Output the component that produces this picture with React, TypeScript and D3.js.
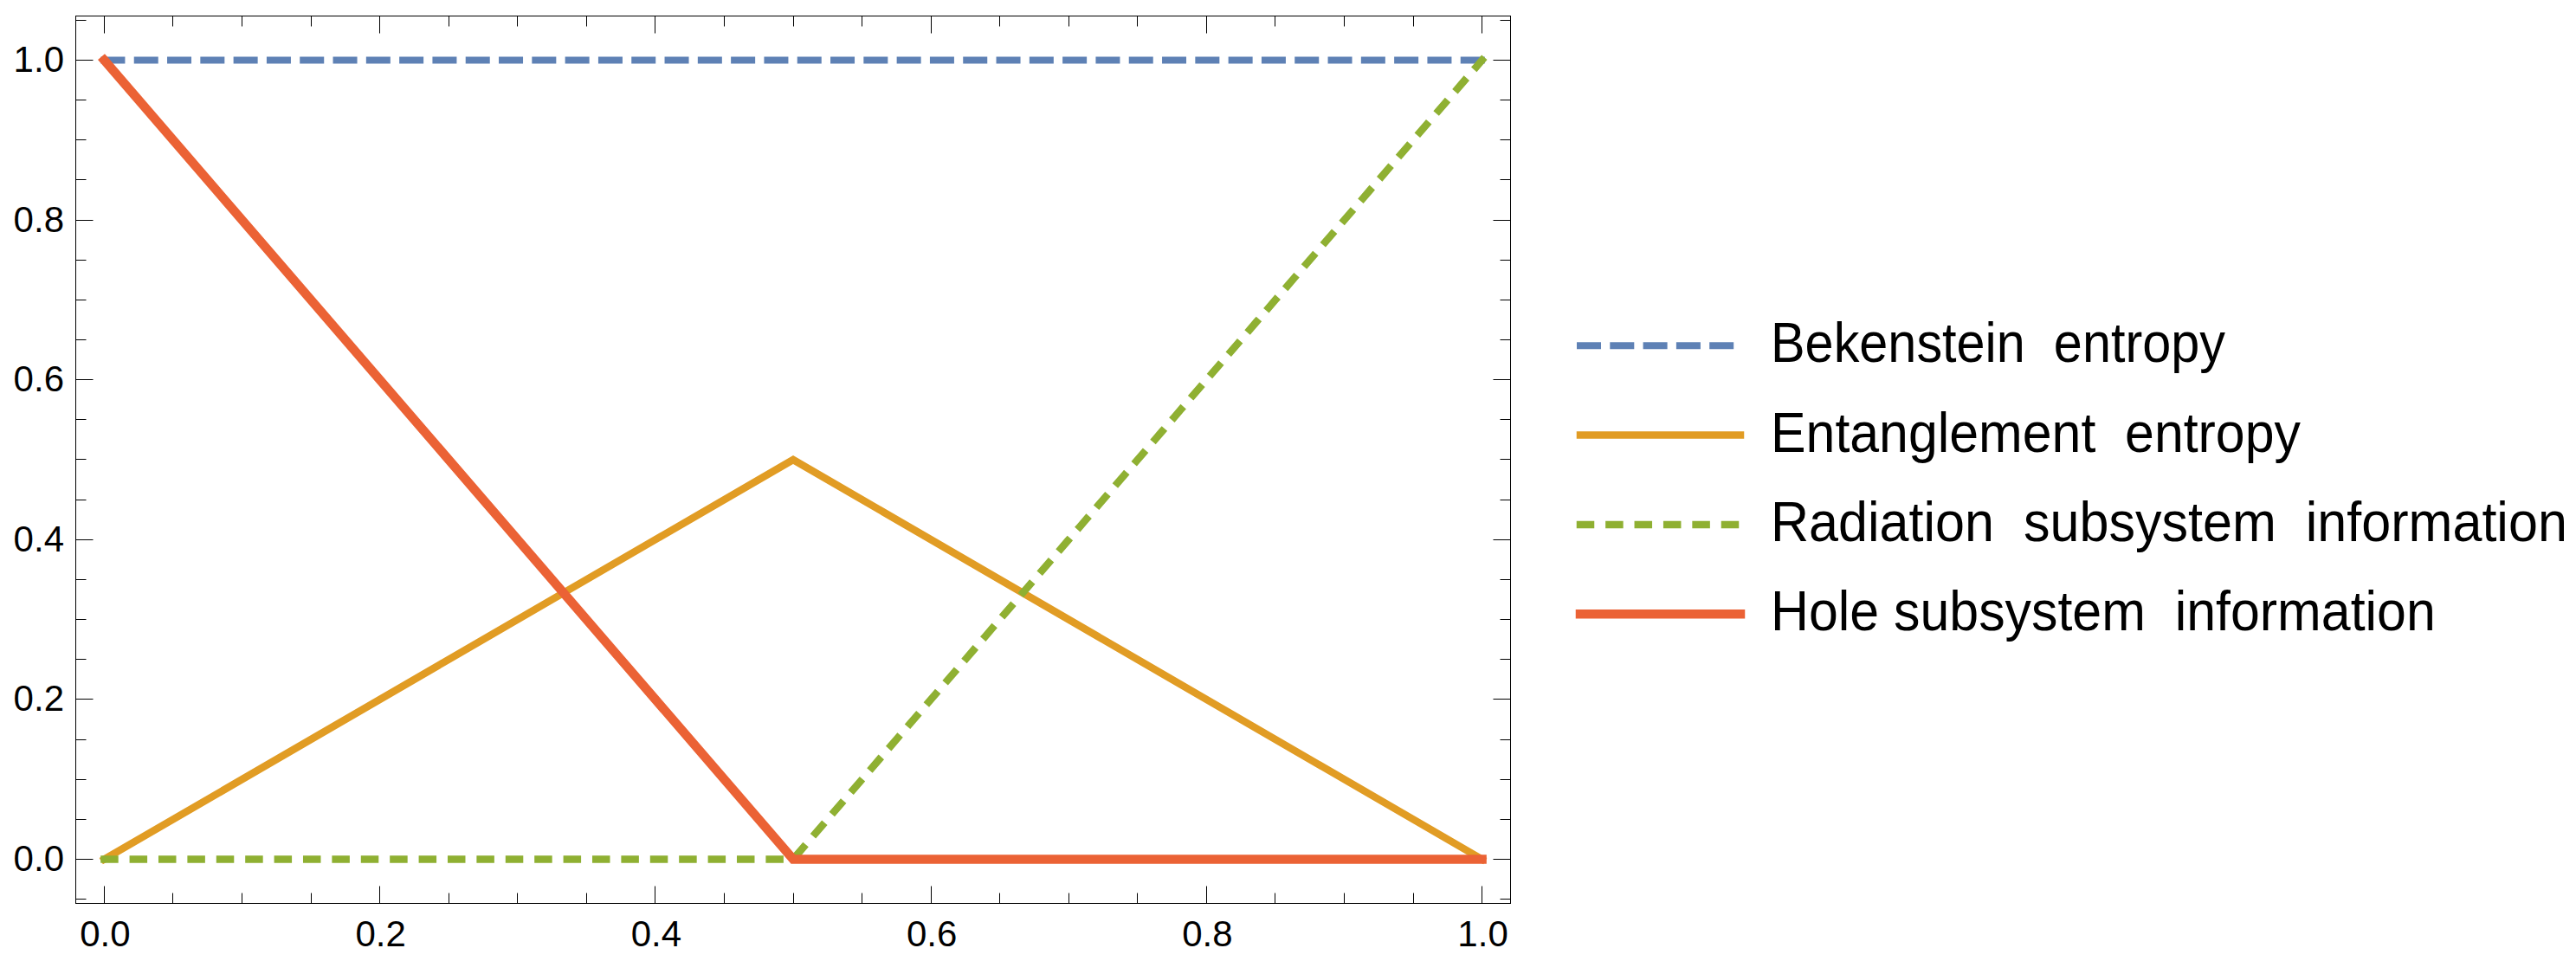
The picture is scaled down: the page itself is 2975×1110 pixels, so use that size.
import React, { useEffect, useRef } from 'react';
import * as d3 from 'd3';

// data
const xValues = [0, 0.5, 1];
const bekensteinEntropy = [1, 1, 1];
const entanglementEntropy = [0, 0.5, 0];
const radiationInformation = [0, 0, 1];
const holeInformation = [1, 0, 0];

const seriesLabels = [
  'Bekenstein  entropy',
  'Entanglement  entropy',
  'Radiation  subsystem  information',
  'Hole subsystem  information',
];

const xTickLabels = [0, 0.2, 0.4, 0.6, 0.8, 1.0];
const yTickLabels = [0, 0.2, 0.4, 0.6, 0.8, 1.0];

// Mathematica default palette
const seriesStyles = [
  { color: '#5E81B5', width: 8, dash: '20 18.3' },
  { color: '#E19C24', width: 8.5, dash: null },
  { color: '#8FB032', width: 8.5, dash: '12 21.4' },
  { color: '#EB6235', width: 10.5, dash: null },
];
// fitted text widths of the legend entries (the font is drawn a bit narrow)
const legendTextLength = [525, 612, 920, 768];

const W = 2975;
const H = 1110;
const frame = { left: 87.5, right: 1744.5, top: 18.5, bottom: 1043.5 };
const font = '"Liberation Sans", Arial, sans-serif';

const App = () => {
  const svgRef = useRef(null);

  useEffect(() => {
    const svg = d3.select(svgRef.current);
    svg.selectAll('*').remove();

    const x = d3.scaleLinear().domain([-0.0207, 1.0207]).range([frame.left, frame.right]);
    const y = d3.scaleLinear().domain([-0.0553, 1.0553]).range([frame.bottom, frame.top]);
    const snap = v => Math.floor(v) + 0.5;

    const series = [bekensteinEntropy, entanglementEntropy, radiationInformation, holeInformation];

    // frame
    svg.append('rect')
      .attr('x', frame.left).attr('y', frame.top)
      .attr('width', frame.right - frame.left).attr('height', frame.bottom - frame.top)
      .attr('fill', 'none').attr('stroke', 'black').attr('stroke-width', 1);

    const isMajor = (v, majors) => majors.some(m => Math.abs(m - v) < 1e-6);
    const xTicks = d3.range(0, 1.0001, 0.05).map(v => +v.toFixed(2));
    const yTicks = d3.range(-0.05, 1.0501, 0.05).map(v => +v.toFixed(2));

    // ticks on all four sides, pointing inwards
    const ticks = svg.append('g').attr('stroke', 'black').attr('stroke-width', 1);
    xTicks.forEach(v => {
      const len = isMajor(v, xTickLabels) ? 20 : 12;
      const px = snap(x(v));
      ticks.append('line').attr('x1', px).attr('x2', px).attr('y1', frame.bottom).attr('y2', frame.bottom - len);
      ticks.append('line').attr('x1', px).attr('x2', px).attr('y1', frame.top).attr('y2', frame.top + len);
    });
    yTicks.forEach(v => {
      const len = isMajor(v, yTickLabels) ? 20 : 12;
      const py = snap(y(v));
      ticks.append('line').attr('y1', py).attr('y2', py).attr('x1', frame.left).attr('x2', frame.left + len);
      ticks.append('line').attr('y1', py).attr('y2', py).attr('x1', frame.right).attr('x2', frame.right - len);
    });

    const fmt = d3.format('.1f');
    svg.append('g').selectAll('text')
      .data(xTickLabels).enter().append('text')
      .attr('x', d => x(d) + 1)
      .attr('y', 1093)
      .attr('text-anchor', 'middle')
      .attr('font-family', font).attr('font-size', 42)
      .text(d => fmt(d));

    svg.append('g').selectAll('text')
      .data(yTickLabels).enter().append('text')
      .attr('x', 74)
      .attr('y', d => y(d) + 13.5)
      .attr('text-anchor', 'end')
      .attr('font-family', font).attr('font-size', 42)
      .text(d => fmt(d));

    // curves
    const line = d3.line()
      .x((d, i) => x(xValues[i]))
      .y(d => y(d));

    series.forEach((values, i) => {
      const st = seriesStyles[i];
      svg.append('path')
        .attr('d', line(values))
        .attr('fill', 'none')
        .attr('stroke', st.color)
        .attr('stroke-width', st.width)
        .attr('stroke-linecap', 'square')
        .attr('stroke-linejoin', 'miter')
        .attr('stroke-dasharray', st.dash);
    });

    // legend
    const legend = svg.append('g');
    seriesLabels.forEach((label, i) => {
      const st = seriesStyles[i];
      const ly = 399.3 + i * 103.3;
      legend.append('line')
        .attr('x1', 1825).attr('x2', 2010)
        .attr('y1', ly).attr('y2', ly)
        .attr('stroke', st.color)
        .attr('stroke-width', st.width)
        .attr('stroke-linecap', 'square')
        .attr('stroke-dasharray', st.dash);
      const t = legend.append('text')
        .attr('font-family', font).attr('font-size', 64)
        .style('white-space', 'pre')
        .text(label);
      const natural = t.node().getComputedTextLength() || legendTextLength[i];
      const k = Math.min(1, legendTextLength[i] / natural);
      t.attr('transform', `translate(2045,${ly + 19}) scale(${k},1)`);
    });

    return () => {
      d3.select(svgRef.current).selectAll('*').remove();
    };
  }, []);

  return (
    <svg
      ref={svgRef}
      width={W}
      height={H}
      style={{ position: 'absolute', left: 0, top: 0, background: 'white' }}
    />
  );
};

export default App;
